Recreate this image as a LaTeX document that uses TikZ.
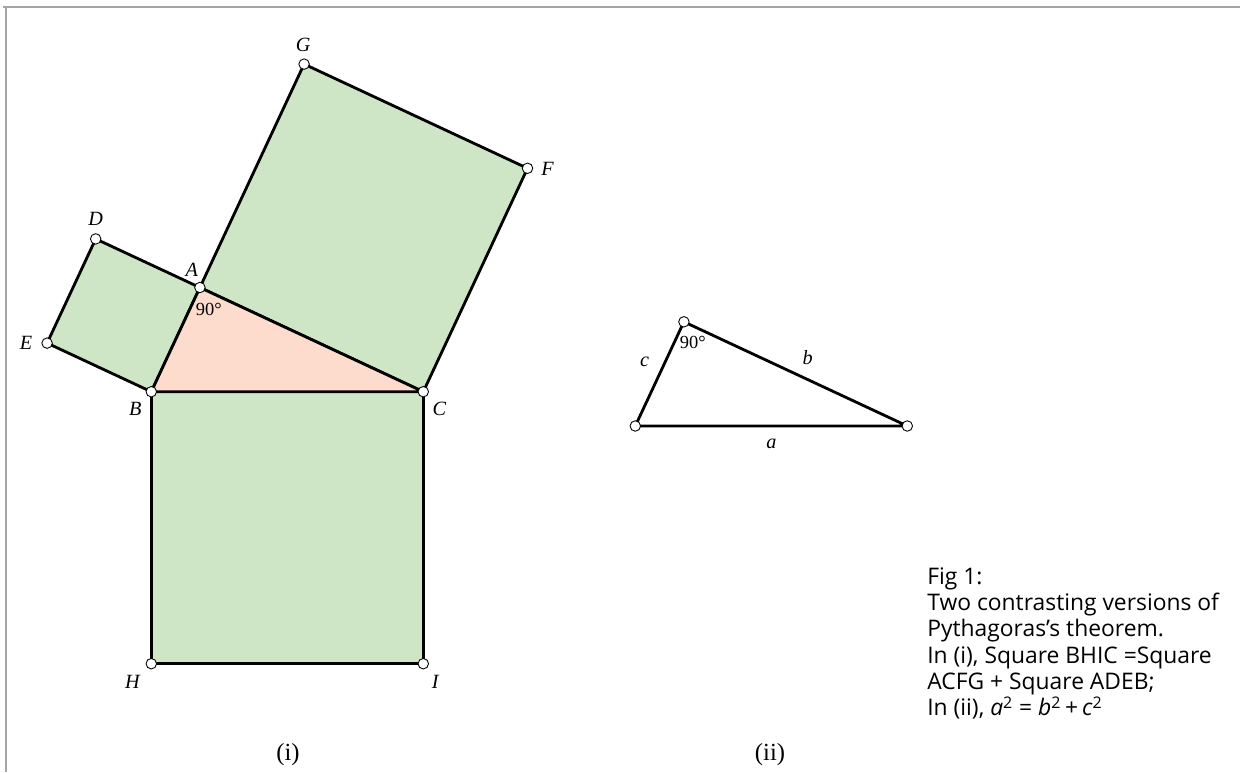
\documentclass[tikz,border=0pt]{standalone}
\usepackage{fontspec}
\setmainfont{Liberation Serif}
\newfontfamily\capfont{Open Sans}
\usetikzlibrary{calc}
\definecolor{sqGreen}{RGB}{206,230,197}
\definecolor{triPink}{RGB}{253,220,206}
\definecolor{frameGray}{RGB}{165,165,165}

\begin{document}
\begin{tikzpicture}[
    x=0.02cm, y=-0.02cm,
    edge/.style={draw=black, line width=1.6pt, line join=round},
    vertex/.style={circle, draw=black, fill=white, line width=0.5pt,
                   inner sep=0pt, minimum size=0.21cm},
    ptlabel/.style={font=\fontsize{11.5}{13}\selectfont\itshape, inner sep=0pt},
    anglabel/.style={font=\fontsize{10.5}{12}\selectfont, inner sep=0pt},
    partlabel/.style={font=\fontsize{14}{16}\selectfont, inner sep=0pt},
    figcaption/.style={font=\capfont\fontsize{13}{15}\selectfont,
                       align=left, anchor=north west, inner sep=0pt},
  ]
    \useasboundingbox (0,0) rectangle (1240,772);
    \draw[frameGray, line width=1pt] (3,7) -- (1240,7) (6,7) -- (6,772);

    % (i): right triangle with a square on each side
    \coordinate (B) at (151.3,391.7);
    \coordinate (C) at (423.3,391.7);
    \coordinate (A) at (199.9,287.5);
    \coordinate (D) at ($(A)!1!-90:(B)$);
    \coordinate (E) at ($(B)!1!90:(A)$);
    \coordinate (G) at ($(A)!1!90:(C)$);
    \coordinate (F) at ($(C)!1!-90:(A)$);
    \coordinate (H) at ($(B)!1!-90:(C)$);
    \coordinate (I) at ($(C)!1!90:(B)$);

    \filldraw[edge, fill=sqGreen] (A) -- (B) -- (E) -- (D) -- cycle;
    \filldraw[edge, fill=sqGreen] (A) -- (C) -- (F) -- (G) -- cycle;
    \filldraw[edge, fill=sqGreen] (B) -- (H) -- (I) -- (C) -- cycle;
    \filldraw[edge, fill=triPink] (A) -- (B) -- (C) -- cycle;

    \foreach \p in {A,...,I} \node[vertex] (v\p) at (\p) {};
    \foreach \p/\dx/\dy in {A/-8/-18, B/-16/17, C/16/17, D/0/-20, E/-21/0,
                            F/20/1, G/-1/-19, H/-19/18, I/12/18}
      \node[ptlabel] (l\p) at ($(\p)+(\dx,\dy)$) {\p};
    \node[anglabel] (angA) at ($(A)+(9,22)$) {90°};

    % (ii): the same triangle with sides a, b, c
    \coordinate (tA) at ($(A)+(484,34.3)$);
    \coordinate (tB) at ($(B)+(484,34.3)$);
    \coordinate (tC) at ($(C)+(484,34.3)$);
    \draw[edge] (tA) -- (tB) -- (tC) -- cycle;
    \foreach \p in {tA,tB,tC} \node[vertex] (v\p) at (\p) {};
    \node[ptlabel] (lc) at ($(tA)!0.5!(tB)+(-15,-12)$) {c};
    \node[ptlabel] (lb) at ($(tA)!0.5!(tC)+(12,-16)$) {b};
    \node[ptlabel] (la) at ($(tB)!0.5!(tC)+(0,18)$) {a};
    \node[anglabel] (angtA) at ($(tA)+(9,21)$) {90°};

    \node[partlabel] (partI) at (288,755) {(i)};
    \node[partlabel] (partII) at (770,755) {(ii)};

    \node[figcaption] (cap) at (927,567) {Fig 1:\\
      Two contrasting versions of\\
      Pythagoras’s theorem.\\
      In (i), Square BHIC =Square\\
      ACFG + Square ADEB;\\
      In (ii), \textit{a}\textsuperscript{2} = \textit{b}\textsuperscript{2}\,+\,\textit{c}\textsuperscript{2}};
  \end{tikzpicture}
\end{document}
